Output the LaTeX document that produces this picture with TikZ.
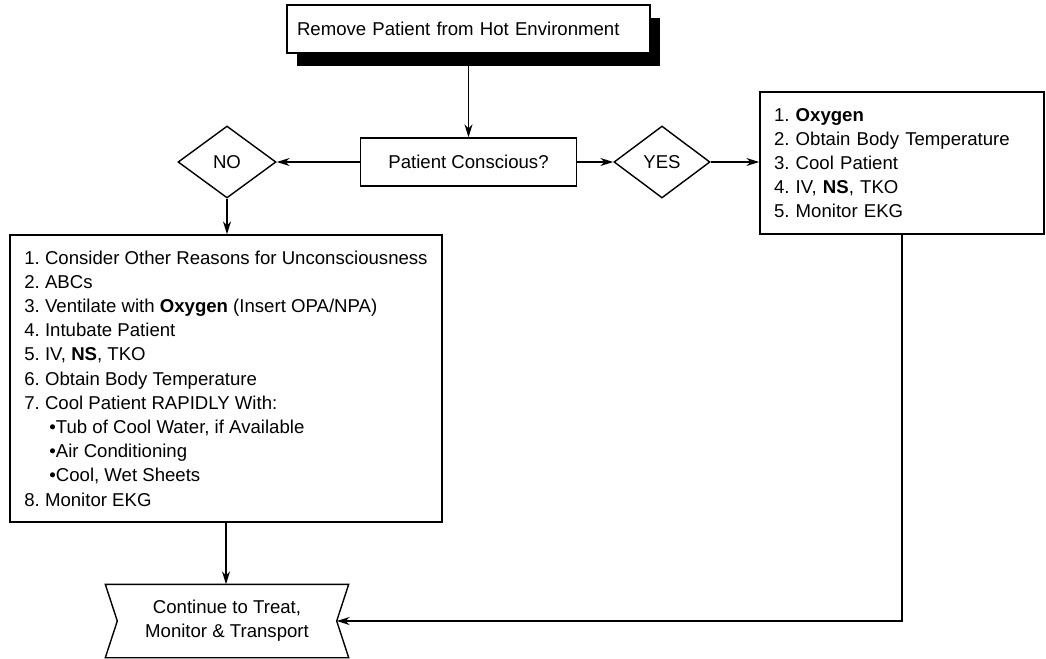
\documentclass[tikz,border=0pt]{standalone}
\usepackage{fontspec}
\setmainfont{Liberation Sans}
\frenchspacing
\usepackage{tikz}
\usetikzlibrary{positioning, arrows.meta, shadows, shapes.geometric}

\begin{document}
\begin{tikzpicture}[
		x=0.5pt, y=-0.5pt,
		>={Stealth[length=6.5pt, width=4pt, inset=2pt]},
		line width=0.7pt,
		font=\fontsize{9.3}{12.1}\selectfont,
		box/.style={draw=black, fill=white, rectangle, inner ysep=0pt},
		decision/.style={draw=black, fill=white, diamond, inner sep=0pt, minimum width=49pt, minimum height=36pt},
		shadowed/.style={drop shadow={shadow xshift=5pt, shadow yshift=-6.5pt, fill=black, opacity=1}}
		]
		
		\useasboundingbox (0,0) rectangle (1046,659);
		
		% Start box
		\node[box, shadowed, align=left, text width=171.5pt, inner xsep=5pt, minimum height=24pt] (remove) at (468.5,29) {Remove Patient from Hot Environment};
		
		% Question and answers
		\node[box, minimum width=108pt, minimum height=24pt] (ask) at (468.5,162) {Patient Conscious?};
		\node[decision] (no) at (227,162) {NO};
		\node[decision, minimum width=48pt] (yes) at (662,162) {YES};
		
		% YES branch
		\node[box, align=left, text width=128pt, inner xsep=7pt, minimum height=71pt] (oxy) at (902,163) {
			1. \textbf{Oxygen}\\
			2. Obtain Body Temperature\\
			3. Cool Patient\\
			4. IV, \textbf{NS}, TKO\\
			5. Monitor EKG
		};
		
		% NO branch
		\node[box, align=left, minimum width=216pt, minimum height=143.5pt] (unc) at (226,378.5) {
			1. Consider Other Reasons for Unconsciousness\\
			2. ABCs\\
			3. Ventilate with \textbf{Oxygen} (Insert OPA/NPA)\\
			4. Intubate Patient\\
			5. IV, \textbf{NS}, TKO\\
			6. Obtain Body Temperature\\
			7. Cool Patient RAPIDLY With:\\
			\hspace*{12.5pt}•Tub of Cool Water, if Available\\
			\hspace*{12.5pt}•Air Conditioning\\
			\hspace*{12.5pt}•Cool, Wet Sheets\\
			8. Monitor EKG
		};
		
		% End
		\node[align=center, minimum width=109pt, minimum height=36pt, inner sep=0pt] (cont) at (227,621) {Continue to Treat,\\ Monitor \& Transport};
		\draw ([xshift=-6pt]cont.north west) -- ([xshift=6pt]cont.north east) -- (cont.east)
			-- ([xshift=6pt]cont.south east) -- ([xshift=-6pt]cont.south west) -- (cont.west) -- cycle;
		
		% Connectors
		\draw[->] (remove.south) -- (ask.north);
		\draw[->] (ask.west) -- (no.east);
		\draw[->] (ask.east) -- (yes.west);
		\draw[->] (yes.east) -- (yes.east -| oxy.west);
		\draw[->] (no.south) -- (no.south |- unc.north);
		\draw[->] (unc.south) -- (unc.south |- cont.north);
		\draw[->] (oxy.south) |- (cont.east);
		
	\end{tikzpicture}
\end{document}
